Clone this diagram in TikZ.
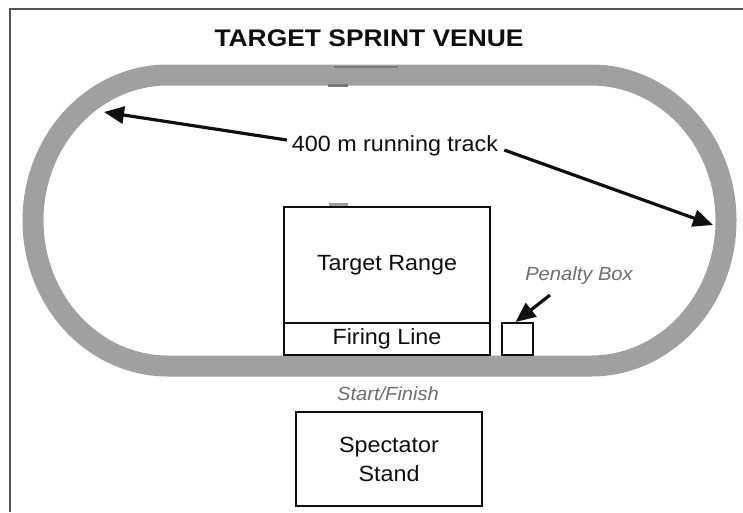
\documentclass[tikz,border=0pt]{standalone}
\usepackage{fontspec}
\usepackage{graphicx}
\setmainfont{Liberation Sans}
\usetikzlibrary{arrows.meta}
\definecolor{trackgray}{RGB}{160,160,160}
\definecolor{markgray}{RGB}{120,120,120}
\definecolor{framegray}{RGB}{85,85,85}
\definecolor{italgray}{RGB}{110,110,110}
\definecolor{inkblack}{RGB}{15,15,15}
\newcommand{\wide}[1]{\scalebox{1.06}[1]{#1}}
\newcommand{\widt}[1]{\scalebox{1.1}[1]{#1}}
\tikzset{
  venuebox/.style={draw=inkblack, line width=1.9pt, rectangle, inner sep=0pt, text=inkblack,
    font=\fontsize{22}{27}\selectfont},
  labeltext/.style={inner sep=1pt, text=inkblack, font=\fontsize{22}{27}\selectfont},
  itallabel/.style={inner sep=1pt, text=italgray, font=\fontsize{19}{23}\selectfont\itshape},
  bigarrow/.style={draw=inkblack, line width=3.2pt, -{Triangle[length=20pt,width=17pt]}},
  track/.style={draw=trackgray, line width=21pt}
}
\begin{document}
\begin{tikzpicture}[x=1pt,y=-1pt]
\useasboundingbox (0,0) rectangle (743,512);
\fill[white] (0,0) rectangle (743,512);
% frame (only top and left edges visible)
\draw[framegray, line width=2.2pt] (10,512) -- (10,9) -- (743,9);
% title
\node[inner sep=0pt, text=inkblack, font=\fontsize{24}{28}\selectfont\bfseries] (title) at (369,38) {\widt{TARGET SPRINT VENUE}};
% running track
\draw[track] (168,75) -- (591,75)
  arc[start angle=-90, end angle=90, x radius=135, y radius=145.5]
  -- (168,366)
  arc[start angle=90, end angle=270, x radius=135, y radius=145.5] -- cycle;
% small marks on track
\draw[markgray, line width=2pt] (334,67) -- (398,67);
\fill[markgray] (328,84) rectangle (348,87);
\fill[trackgray] (329,203) rectangle (348,207);
% boxes
\node[venuebox, minimum width=206pt, minimum height=116pt] (range) at (387,265) {\wide{Target Range}};
\node[venuebox, minimum width=206pt, minimum height=32pt] (firing) at (387,339) {\wide{Firing Line}};
\node[venuebox, minimum width=31pt, minimum height=32pt] (pbox) at (517.5,339) {};
\node[venuebox, minimum width=186pt, minimum height=94pt, align=center] (stand) at (389,459) {\wide{Spectator}\\[2pt]\wide{Stand}};
% labels
\node[labeltext] (tracklbl) at (395,146) {\wide{400 m running track}};
\node[itallabel] (penlbl) at (579,276) {\wide{Penalty Box}};
\node[itallabel] (startlbl) at (388,394) {\wide{Start/Finish}};
% arrows
\coordinate (tipL) at (104,112);
\coordinate (tipR) at (713,225);
\coordinate (penstart) at (550,295);
\draw[bigarrow] ([xshift=-4pt,yshift=6pt]tracklbl.west) -- (tipL);
\draw[bigarrow] ([xshift=5pt,yshift=-4pt]tracklbl.east) -- (tipR);
\draw[bigarrow] (penstart) -- ([xshift=-2pt]pbox.north);
\end{tikzpicture}
\end{document}
